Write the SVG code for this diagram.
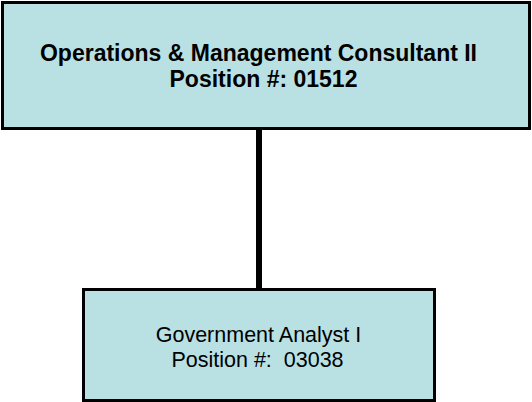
<svg xmlns="http://www.w3.org/2000/svg" width="532" height="402" viewBox="0 0 532 402">
<style>
.box{fill:#b9e0e3;stroke:#000;stroke-width:3}
.t{font-family:"Liberation Sans",Arial,sans-serif;fill:#000;text-anchor:middle;white-space:pre}
.b{font-weight:bold;font-size:23px}
.r{font-size:21.5px}
.conn{stroke:#000;stroke-width:6;fill:none}
</style>
<g id="connectors">
<line class="conn" x1="259" y1="128" x2="259" y2="289"/>
</g>
<g id="node-top">
<rect class="box" x="2.5" y="2.5" width="527" height="126"/>
<text class="t b" x="258.5" y="61">Operations &amp; Management Consultant II</text>
<text class="t b" x="263.5" y="87">Position #: 01512</text>
</g>
<g id="node-bottom">
<rect class="box" x="83.5" y="289.5" width="351" height="111"/>
<text class="t r" x="258.5" y="341.5">Government Analyst I</text>
<text class="t r" x="257.5" y="366.5" xml:space="preserve">Position #:  03038</text>
</g>
</svg>
